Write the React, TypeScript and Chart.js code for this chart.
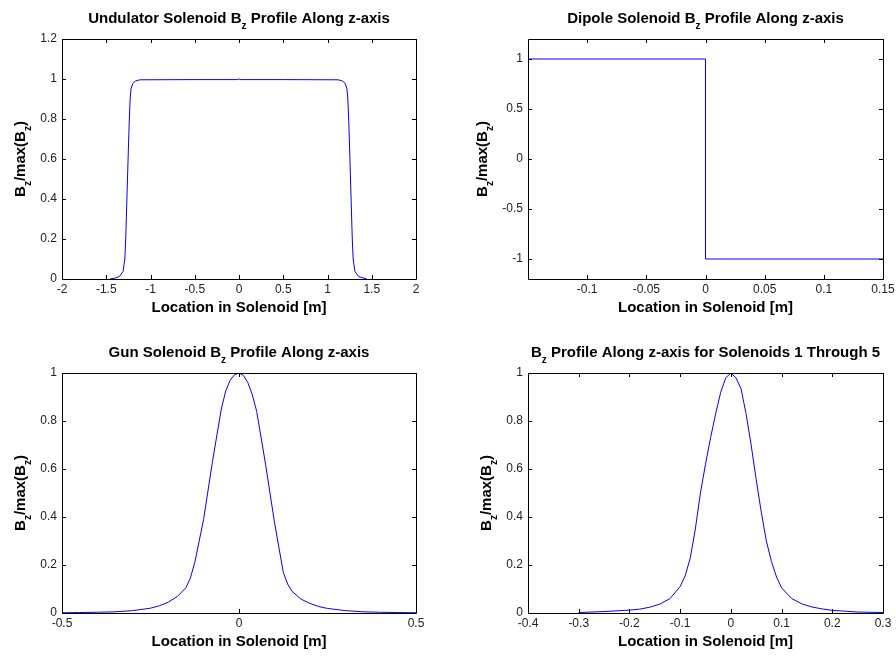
import React, { useEffect, useRef } from 'react';
import { Chart, registerables } from 'chart.js';

Chart.register(...registerables);

const FONT = '"Liberation Sans", Arial, Helvetica, sans-serif';
const LINE_BLUE = 'rgb(0,0,255)';
const TICK_COLOR = '#222222';

// ---- Undulator solenoid: position along z [m] and normalised Bz ----
const undulatorZ = [
  -1.46, -1.4, -1.35, -1.31, -1.29, -1.28, -1.27, -1.26, -1.25, -1.24, -1.23, -1.22, -1.2, -1.17, -1.12,
  -0.5, -0.02, 0, 0.02, 0.5,
  1.12, 1.17, 1.2, 1.22, 1.23, 1.24, 1.25, 1.26, 1.27, 1.28, 1.29, 1.31, 1.35, 1.4, 1.44,
];
const undulatorB = [
  0, 0.004, 0.013, 0.038, 0.1, 0.2, 0.35, 0.5, 0.65, 0.79, 0.9, 0.95, 0.978, 0.99, 0.996,
  0.997, 0.997, 1.0, 0.997, 0.997,
  0.996, 0.99, 0.978, 0.95, 0.9, 0.79, 0.65, 0.5, 0.35, 0.2, 0.1, 0.038, 0.013, 0.005, 0.002,
];
const undulatorXTicks = [-2, -1.5, -1, -0.5, 0, 0.5, 1, 1.5, 2];
const undulatorYTicks = [0, 0.2, 0.4, 0.6, 0.8, 1, 1.2];

// ---- Dipole solenoid: step from +1 to -1 at z = 0 ----
const dipoleZ = [-0.15, 0, 0, 0.15];
const dipoleB = [1, 1, -1, -1];
const dipoleXTicks = [-0.1, -0.05, 0, 0.05, 0.1, 0.15];
const dipoleYTicks = [-1, -0.5, 0, 0.5, 1];

// ---- Gun solenoid ----
const gunZ = [
  -0.5, -0.45, -0.4, -0.35, -0.3, -0.25, -0.225, -0.2, -0.175, -0.15, -0.1375, -0.125, -0.1, -0.075, -0.05, -0.0375, -0.025, -0.0125,
  0, 0.0125, 0.025, 0.0375, 0.05, 0.075, 0.1, 0.125, 0.1375, 0.15, 0.175, 0.2, 0.225, 0.25, 0.3, 0.35, 0.4, 0.45, 0.5,
];
const gunB = [
  0.001, 0.002, 0.003, 0.005, 0.01, 0.02, 0.03, 0.045, 0.068, 0.105, 0.145, 0.21, 0.39, 0.63, 0.85, 0.925, 0.97, 0.993,
  1.0, 0.99, 0.96, 0.91, 0.84, 0.62, 0.38, 0.17, 0.12, 0.09, 0.058, 0.04, 0.027, 0.019, 0.01, 0.005, 0.003, 0.002, 0.001,
];
const gunXTicks = [-0.5, 0, 0.5];
const gunYTicks = [0, 0.2, 0.4, 0.6, 0.8, 1];

// ---- Solenoids 1 through 5 ----
const solenoidZ = [
  -0.3, -0.25, -0.2, -0.18, -0.16, -0.14, -0.12, -0.1, -0.09, -0.08, -0.07, -0.06, -0.05, -0.04, -0.03, -0.02, -0.01,
  0, 0.01, 0.02, 0.03, 0.04, 0.05, 0.06, 0.07, 0.08, 0.09, 0.1, 0.12, 0.14, 0.16, 0.18, 0.2, 0.25, 0.3,
];
const solenoidB = [
  0.002, 0.006, 0.012, 0.016, 0.024, 0.037, 0.06, 0.11, 0.155, 0.23, 0.35, 0.5, 0.62, 0.73, 0.83, 0.92, 0.98,
  1.0, 0.98, 0.935, 0.83, 0.7, 0.555, 0.42, 0.3, 0.215, 0.15, 0.105, 0.06, 0.038, 0.025, 0.017, 0.011, 0.004, 0.002,
];
const solenoidXTicks = [-0.4, -0.3, -0.2, -0.1, 0, 0.1, 0.2, 0.3];
const solenoidYTicks = [0, 0.2, 0.4, 0.6, 0.8, 1];

type Seg = { text: string; sub?: boolean };

const yLabel: Seg[] = [{ text: 'B' }, { text: 'z', sub: true }, { text: '/max(B' }, { text: 'z', sub: true }, { text: ')' }];
const xLabel: Seg[] = [{ text: 'Location in Solenoid [m]' }];

type PanelSpec = {
  title: Seg[];
  z: number[];
  b: number[];
  xMin: number; xMax: number; yMin: number; yMax: number;
  xTicks: number[]; yTicks: number[];
  // canvas placement and plot box inside it
  cx: number; cy: number; cw: number; ch: number;
  left: number; top: number; right: number; bottom: number;
  yLabelGap: number;
};

const panels: PanelSpec[] = [
  {
    title: [{ text: 'Undulator Solenoid B' }, { text: 'z', sub: true }, { text: ' Profile Along z-axis' }],
    z: undulatorZ, b: undulatorB,
    xMin: -2, xMax: 2, yMin: 0, yMax: 1.2,
    xTicks: undulatorXTicks, yTicks: undulatorYTicks,
    cx: 0, cy: 0, cw: 448, ch: 328,
    left: 62, top: 39, right: 416, bottom: 279,
    yLabelGap: 37,
  },
  {
    title: [{ text: 'Dipole Solenoid B' }, { text: 'z', sub: true }, { text: ' Profile Along z-axis' }],
    z: dipoleZ, b: dipoleB,
    xMin: -0.15, xMax: 0.15, yMin: -1.2, yMax: 1.2,
    xTicks: dipoleXTicks, yTicks: dipoleYTicks,
    cx: 448, cy: 0, cw: 448, ch: 328,
    left: 80, top: 39, right: 435, bottom: 279,
    yLabelGap: 41,
  },
  {
    title: [{ text: 'Gun Solenoid B' }, { text: 'z', sub: true }, { text: ' Profile Along z-axis' }],
    z: gunZ, b: gunB,
    xMin: -0.5, xMax: 0.5, yMin: 0, yMax: 1,
    xTicks: gunXTicks, yTicks: gunYTicks,
    cx: 0, cy: 328, cw: 448, ch: 328,
    left: 62, top: 45, right: 416, bottom: 285,
    yLabelGap: 37,
  },
  {
    title: [{ text: 'B' }, { text: 'z', sub: true }, { text: ' Profile Along z-axis for Solenoids 1 Through 5' }],
    z: solenoidZ, b: solenoidB,
    xMin: -0.4, xMax: 0.3, yMin: 0, yMax: 1,
    xTicks: solenoidXTicks, yTicks: solenoidYTicks,
    cx: 448, cy: 328, cw: 448, ch: 328,
    left: 80, top: 45, right: 435, bottom: 285,
    yLabelGap: 37,
  },
];

const MAIN_FONT = `bold 15px ${FONT}`;
const SUB_FONT = `bold 10px ${FONT}`;
const SUB_DROP = 6;

function drawRich(ctx: CanvasRenderingContext2D, segs: Seg[], cx: number, baseline: number) {
  let total = 0;
  const widths = segs.map((s) => {
    ctx.font = s.sub ? SUB_FONT : MAIN_FONT;
    const w = ctx.measureText(s.text).width;
    total += w;
    return w;
  });
  let x = cx - total / 2;
  ctx.textAlign = 'left';
  ctx.textBaseline = 'alphabetic';
  segs.forEach((s, i) => {
    ctx.font = s.sub ? SUB_FONT : MAIN_FONT;
    ctx.fillText(s.text, x, s.sub ? baseline + SUB_DROP : baseline);
    x += widths[i];
  });
}

function framePlugin(spec: PanelSpec) {
  return {
    id: 'matlabFrame',
    afterDraw(chart: any) {
      const ctx: CanvasRenderingContext2D = chart.ctx;
      const { left, top, right, bottom } = chart.chartArea;
      const xs = chart.scales.x;
      const ys = chart.scales.y;
      const TL = 4;
      ctx.save();
      ctx.strokeStyle = '#000';
      ctx.lineWidth = 1;
      ctx.beginPath();
      ctx.rect(Math.round(left) + 0.5, Math.round(top) + 0.5, Math.round(right - left), Math.round(bottom - top));
      // inward tick marks on all four sides
      spec.xTicks.forEach((v) => {
        const px = Math.round(xs.getPixelForValue(v)) + 0.5;
        ctx.moveTo(px, bottom);
        ctx.lineTo(px, bottom - TL);
        ctx.moveTo(px, top);
        ctx.lineTo(px, top + TL);
      });
      spec.yTicks.forEach((v) => {
        const py = Math.round(ys.getPixelForValue(v)) + 0.5;
        ctx.moveTo(left, py);
        ctx.lineTo(left + TL, py);
        ctx.moveTo(right, py);
        ctx.lineTo(right - TL, py);
      });
      ctx.stroke();

      ctx.fillStyle = '#000';
      const midX = (left + right) / 2;
      drawRich(ctx, spec.title, midX, top - 16.5);
      drawRich(ctx, xLabel, midX, bottom + 33);

      ctx.translate(left - spec.yLabelGap, (top + bottom) / 2);
      ctx.rotate(-Math.PI / 2);
      drawRich(ctx, yLabel, 0, 0);
      ctx.restore();
    },
  };
}

function buildConfig(spec: PanelSpec): any {
  const tickFont = { family: FONT, size: 12, weight: 'normal' as const };
  return {
    type: 'line',
    data: {
      datasets: [
        {
          data: spec.z.map((x, i) => ({ x, y: spec.b[i] })),
          borderColor: LINE_BLUE,
          borderWidth: 1,
          pointRadius: 0,
          tension: 0,
          fill: false,
        },
      ],
    },
    options: {
      animation: false,
      responsive: false,
      maintainAspectRatio: false,
      events: [],
      layout: {
        padding: { left: 0, top: spec.top, right: spec.cw - spec.right, bottom: 0 },
      },
      plugins: {
        legend: { display: false },
        tooltip: { enabled: false },
        title: { display: false },
      },
      scales: {
        x: {
          type: 'linear',
          min: spec.xMin,
          max: spec.xMax,
          grid: { display: false, drawTicks: false },
          border: { display: false },
          ticks: {
            font: tickFont,
            color: TICK_COLOR,
            padding: 3,
            autoSkip: false,
            maxRotation: 0,
            minRotation: 0,
            callback: (v: number) => String(v),
          },
          afterBuildTicks: (s: any) => {
            s.ticks = spec.xTicks.map((value) => ({ value }));
          },
          afterFit: (s: any) => {
            s.height = spec.ch - spec.bottom;
            s.paddingLeft = 0;
            s.paddingRight = 0;
          },
        },
        y: {
          type: 'linear',
          min: spec.yMin,
          max: spec.yMax,
          grid: { display: false, drawTicks: false },
          border: { display: false },
          ticks: {
            font: tickFont,
            color: TICK_COLOR,
            padding: 5,
            autoSkip: false,
            callback: (v: number) => String(v),
          },
          afterBuildTicks: (s: any) => {
            s.ticks = spec.yTicks.map((value) => ({ value }));
          },
          afterFit: (s: any) => {
            s.width = spec.left;
            s.paddingTop = 0;
            s.paddingBottom = 0;
          },
        },
      },
    },
    plugins: [framePlugin(spec)],
  };
}

function Panel({ spec }: { spec: PanelSpec }) {
  const ref = useRef<HTMLCanvasElement>(null);
  useEffect(() => {
    if (!ref.current) return;
    const chart = new Chart(ref.current, buildConfig(spec));
    return () => chart.destroy();
  }, [spec]);
  return (
    <canvas
      ref={ref}
      width={spec.cw}
      height={spec.ch}
      style={{ position: 'absolute', left: spec.cx, top: spec.cy, width: spec.cw, height: spec.ch }}
    />
  );
}

export default function App() {
  return (
    <div style={{ position: 'absolute', left: 0, top: 0, width: 896, height: 656, background: '#fff', overflow: 'hidden' }}>
      {panels.map((p, i) => (
        <Panel key={i} spec={p} />
      ))}
    </div>
  );
}
